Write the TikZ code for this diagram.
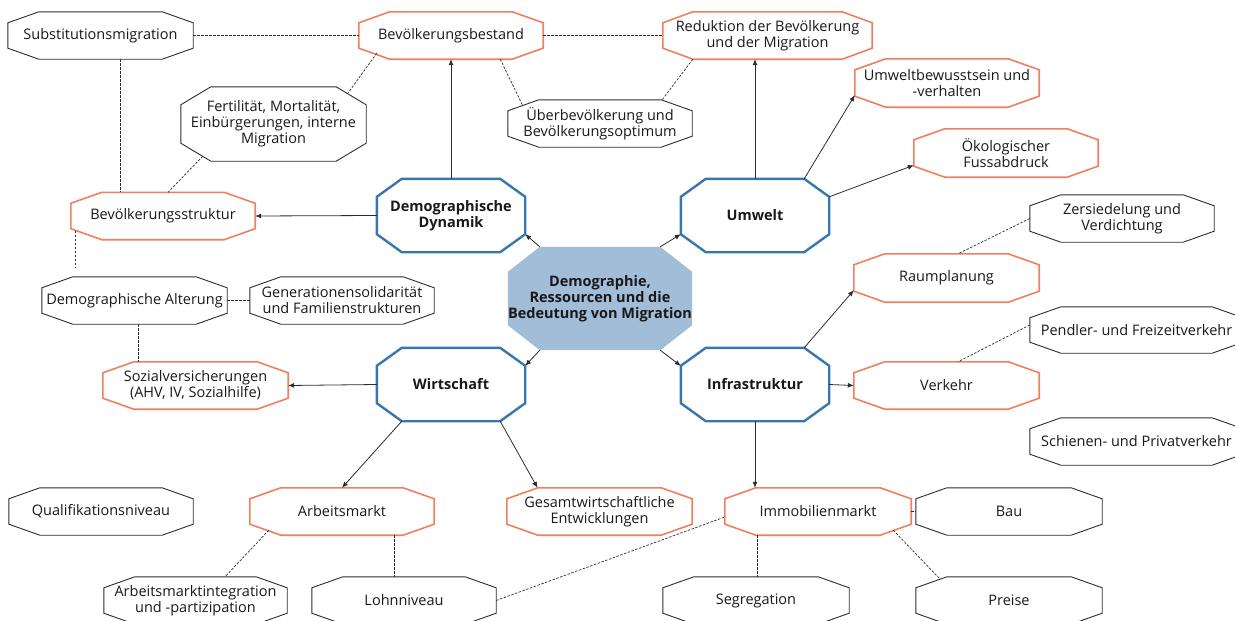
\documentclass[tikz,border=0pt]{standalone}
\usepackage{fontspec}
\setmainfont{Open Sans}
\usetikzlibrary{arrows.meta}
\pgfdeclarelayer{bg}
\pgfsetlayers{bg,main}
\definecolor{orng}{RGB}{238,128,96}
\definecolor{blu}{RGB}{58,118,174}
\definecolor{ctrfill}{RGB}{162,189,216}
\definecolor{dk}{RGB}{45,45,45}
\definecolor{txt}{RGB}{25,25,25}
\newcommand\octo[4]{\begin{pgfonlayer}{bg}\path[#2] ([xshift=#3]#1.north west) -- ([xshift=-#3]#1.north east) -- ([yshift=-#4]#1.north east) -- ([yshift=#4]#1.south east) -- ([xshift=-#3]#1.south east) -- ([xshift=#3]#1.south west) -- ([yshift=#4]#1.south west) -- ([yshift=-#4]#1.north west) -- cycle;\end{pgfonlayer}}
\tikzset{
  lbl/.style={inner sep=0pt, align=center, text=txt, font=\fontsize{14.5}{16}\selectfont, minimum width=184pt, minimum height=47pt},
  bld/.style={font=\fontsize{14.5}{16}\selectfont\bfseries},
  oline/.style={draw=orng, line width=1.6pt, fill=white},
  kline/.style={draw=dk, line width=0.9pt, fill=white},
  bline/.style={draw=blu, line width=2.4pt, fill=white},
  cline/.style={fill=ctrfill},
  arr/.style={draw=dk, line width=0.8pt, -{Latex[length=6pt,width=5pt]}},
  dsh/.style={draw=dk, line width=0.7pt, dash pattern=on 2.5pt off 1.5pt}
}
\begin{document}
\begin{tikzpicture}[x=1pt,y=-1pt]
\useasboundingbox (0,0) rectangle (1235,621);
% nodes
\node[lbl,minimum width=185pt] (sub) at (100.5,35.5) {Substitutionsmigration};
\node[lbl] (bb) at (451,35.5) {Bevölkerungsbestand};
\node[lbl,minimum width=209pt] (red) at (767.5,35.5) {Reduktion der Bevölkerung\\und der Migration};
\node[lbl,minimum height=48pt] (uwb) at (947,83) {Umweltbewusstsein und\\-verhalten};
\node[lbl,minimum height=48pt] (oek) at (1006,153) {Ökologischer\\Fussabdruck};
\node[lbl] (zer) at (1122,218.5) {Zersiedelung und\\Verdichtung};
\node[lbl] (ueb) at (600,123.5) {Überbevölkerung und\\Bevölkerungsoptimum};
\node[lbl,minimum width=185pt,minimum height=74pt] (fert) at (273.5,124) {Fertilität, Mortalität,\\Einbürgerungen, interne\\Migration};
\node[lbl] (bs) at (163,216) {Bevölkerungsstruktur};
\node[lbl,bld,minimum width=148pt,minimum height=73pt] (dd) at (451,215.5) {Demographische\\Dynamik};
\node[lbl,bld,minimum width=148pt,minimum height=73pt] (um) at (755,215.5) {Umwelt};
\node[lbl,bld,minimum width=184pt,minimum height=103pt] (ctr) at (600,298.5) {Demographie,\\Ressourcen und die\\Bedeutung von Migration};
\node[lbl,minimum width=185pt] (da) at (134.5,300.5) {Demographische Alterung};
\node[lbl] (gen) at (342,300.5) {Generationensolidarität\\und Familienstrukturen};
\node[lbl,minimum width=185pt] (sv) at (195.5,385.5) {Sozialversicherungen\\(AHV, IV, Sozialhilfe)};
\node[lbl,bld,minimum width=148pt,minimum height=73pt] (wi) at (451,384.5) {Wirtschaft};
\node[lbl,bld,minimum width=148pt,minimum height=73pt] (inf) at (755,384.5) {Infrastruktur};
\node[lbl,minimum width=185pt,minimum height=48pt] (rp) at (946.5,278) {Raumplanung};
\node[lbl,minimum width=213pt,minimum height=46pt] (pen) at (1136.5,330) {Pendler- und Freizeitverkehr};
\node[lbl,minimum width=185pt] (vk) at (946.5,385.5) {Verkehr};
\node[lbl,minimum width=213pt] (sch) at (1136.5,441.5) {Schienen- und Privatverkehr};
\node[lbl] (qual) at (101,511.5) {Qualifikationsniveau};
\node[lbl] (am) at (342,511.5) {Arbeitsmarkt};
\node[lbl,minimum width=185pt] (ges) at (599.5,511.5) {Gesamtwirtschaftliche\\Entwicklungen};
\node[lbl,minimum width=183pt] (ami) at (195.5,600.5) {Arbeitsmarktintegration\\und -partizipation};
\node[lbl] (lohn) at (404,600.5) {Lohnniveau};
\node[lbl,minimum width=186pt] (imm) at (818,511.5) {Immobilienmarkt};
\node[lbl,minimum width=186pt] (bau) at (1009,511.5) {Bau};
\node[lbl,minimum width=186pt] (seg) at (756,600.5) {Segregation};
\node[lbl,minimum width=186pt] (pre) at (1009,600.5) {Preise};
% octagons
\octo{sub}{kline}{31pt}{11pt}
\octo{bb}{oline}{31pt}{11pt}
\octo{red}{oline}{30pt}{11pt}
\octo{uwb}{oline}{31pt}{11pt}
\octo{oek}{oline}{31pt}{11pt}
\octo{zer}{kline}{31pt}{11pt}
\octo{ueb}{kline}{31pt}{11pt}
\octo{fert}{kline}{30pt}{18pt}
\octo{bs}{oline}{31pt}{11pt}
\octo{dd}{bline}{25pt}{18pt}
\octo{um}{bline}{25pt}{18pt}
\octo{ctr}{cline}{32pt}{25pt}
\octo{da}{kline}{31pt}{11pt}
\octo{gen}{kline}{31pt}{11pt}
\octo{sv}{oline}{31pt}{11pt}
\octo{wi}{bline}{25pt}{18pt}
\octo{inf}{bline}{25pt}{18pt}
\octo{rp}{oline}{31pt}{11pt}
\octo{pen}{kline}{31pt}{11pt}
\octo{vk}{oline}{31pt}{11pt}
\octo{sch}{kline}{31pt}{11pt}
\octo{qual}{kline}{31pt}{11pt}
\octo{am}{oline}{31pt}{11pt}
\octo{ges}{oline}{31pt}{11pt}
\octo{ami}{kline}{31pt}{11pt}
\octo{lohn}{kline}{31pt}{11pt}
\octo{imm}{oline}{31pt}{11pt}
\octo{bau}{kline}{31pt}{11pt}
\octo{seg}{kline}{31pt}{11pt}
\octo{pre}{kline}{31pt}{11pt}
% arrows
\draw[arr] ([xshift=32pt]ctr.north west) -- ([yshift=18pt]dd.south east);
\draw[arr] ([xshift=-32pt]ctr.north east) -- ([yshift=18pt]um.south west);
\draw[arr] ([xshift=32pt]ctr.south west) -- ([yshift=-18pt]wi.north east);
\draw[arr] ([xshift=-32pt]ctr.south east) -- ([yshift=-18pt]inf.north west);
\draw[arr] (dd.north) -- (bb.south);
\draw[arr] (dd.west) -- (bs.east);
\draw[arr] (um.north) -- (um.north |- red.south);
\draw[arr] ([xshift=-25pt]um.north east) -- ([yshift=12pt]uwb.south west);
\draw[arr] ([yshift=-18pt]um.north east) -- ([yshift=12pt]oek.south west);
\draw[arr] ([xshift=-25pt]inf.north east) -- ([yshift=12pt]rp.south west);
\draw[arr] (inf.east) -- (vk.west);
\draw[arr] (inf.south) -- (inf.south |- imm.north);
\draw[arr] (wi.west) -- (sv.east);
\draw[arr] ([xshift=25pt]wi.south west) -- (am.north);
\draw[arr] ([xshift=-25pt]wi.south east) -- ([xshift=-62pt]ges.north);
% dashed relations
\draw[dsh] (sub.east) -- (bb.west);
\draw[dsh] (bb.east) -- (red.west);
\draw[dsh] ([xshift=20pt]sub.south) -- ([xshift=20pt]sub.south |- bs.north);
\draw[dsh] ([xshift=18pt,yshift=6pt]bb.south west) -- ([xshift=-18pt,yshift=-6pt]fert.north east);
\draw[dsh] ([xshift=22pt,yshift=5pt]fert.south west) -- ([xshift=5pt]bs.north);
\draw[dsh] ([xshift=-43pt]bb.south east) -- ([xshift=15pt,yshift=-6pt]ueb.north west);
\draw[dsh] ([xshift=30pt]red.south west) -- ([xshift=-30pt]ueb.north east);
\draw[dsh] ([xshift=5pt,yshift=9pt]bs.south west) -- ([xshift=5pt,yshift=9pt]bs.south west |- da.north);
\draw[dsh] (da.east) -- (gen.west);
\draw[dsh] ([xshift=4pt]da.south) -- ([xshift=4pt]da.south |- sv.north);
\draw[dsh] (zer.west) -- ([xshift=11.5pt]rp.north);
\draw[dsh] ([yshift=5pt]pen.west) -- ([xshift=11.5pt]vk.north);
\draw[dsh] ([xshift=19pt,yshift=5pt]am.south west) -- ([xshift=29.5pt]ami.north);
\draw[dsh] ([xshift=52pt]am.south) -- ([xshift=52pt]am.south |- lohn.north);
\draw[dsh] (lohn.east) -- ([yshift=-5.5pt]imm.west);
\draw[dsh] ([xshift=-61pt]imm.south) -- ([xshift=-61pt]imm.south |- seg.north);
\draw[dsh] ([xshift=-18pt,yshift=5pt]imm.south east) -- ([xshift=24pt,yshift=-2pt]pre.north west);
\draw[dsh] (imm.east) -- (bau.west);
\end{tikzpicture}
\end{document}
